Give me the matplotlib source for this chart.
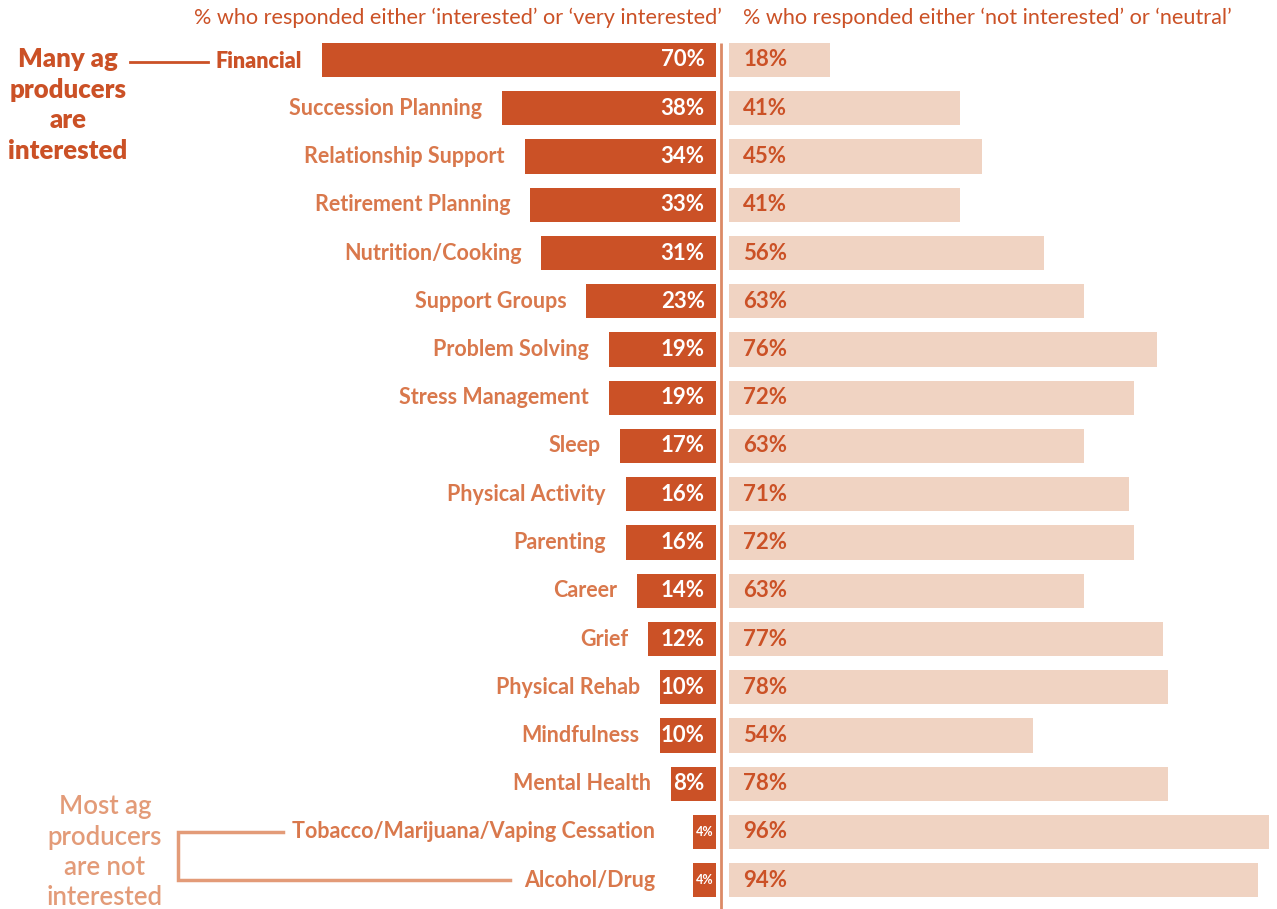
import matplotlib
matplotlib.use("Agg")
import matplotlib.pyplot as plt

categories = [
    "Financial", "Succession Planning", "Relationship Support", "Retirement Planning",
    "Nutrition/Cooking", "Support Groups", "Problem Solving", "Stress Management",
    "Sleep", "Physical Activity", "Parenting", "Career", "Grief", "Physical Rehab",
    "Mindfulness", "Mental Health", "Tobacco/Marijuana/Vaping Cessation", "Alcohol/Drug",
]
interested = [70, 38, 34, 33, 31, 23, 19, 19, 17, 16, 16, 14, 12, 10, 10, 8, 4, 4]
not_interested = [18, 41, 45, 41, 56, 63, 76, 72, 63, 71, 72, 63, 77, 78, 54, 78, 96, 94]

left_header = "% who responded either \u2018interested\u2019 or \u2018very interested\u2019"
right_header = "% who responded either \u2018not interested\u2019 or \u2018neutral\u2019"

DARK = "#cb5126"
LIGHT = "#f0d3c2"
LABEL = "#d9784c"
SOFT = "#e39b78"
RULE = "#dc8a66"
FONT = ["Lato", "DejaVu Sans"]

W, H = 1277, 909
fig = plt.figure(figsize=(W / 100, H / 100), dpi=100)
ax = fig.add_axes([0, 0, 1, 1])

px = 5.63            # pixels per percentage point
x0 = 721             # divider position in pixels
row0, pitch = 60, 48.25
ax.set_xlim(-x0 / px, (W - x0) / px)
ax.set_ylim((H - row0) / pitch, -row0 / pitch)
ax.axis("off")

gap_l, gap_r = 0.9, 1.42
bar_h = 0.71
ys = list(range(len(categories)))

ax.barh(ys, [-v for v in interested], left=-gap_l, height=bar_h, color=DARK, linewidth=0)
ax.barh(ys, not_interested, left=gap_r, height=bar_h, color=LIGHT, linewidth=0)
ax.plot([0, 0], [-bar_h / 2, len(categories) + 0.5], color=RULE, lw=2, solid_capstyle="butt")

for y, cat, a, b in zip(ys, categories, interested, not_interested):
    if a < 6:
        ax.text(-gap_l - a / 2, y, f"{a}%", ha="center", va="center", color="white",
                fontsize=9, fontweight="bold", family=FONT)
    else:
        ax.text(-gap_l - 2.0, y, f"{a}%", ha="right", va="center", color="white",
                fontsize=16, fontweight="bold", family=FONT)
    ax.text(gap_r + 2.5, y, f"{b}%", ha="left", va="center", color=DARK,
            fontsize=16, fontweight="bold", family=FONT)
    lx = min(-gap_l - a - 3.55, -11.7)
    if y == 0:
        ax.text(lx, y + 0.04, cat, ha="right", va="center", color=DARK, fontsize=15.5,
                fontweight="heavy", family=FONT)
    else:
        ax.text(lx, y, cat, ha="right", va="center", color=LABEL, fontsize=15.5,
                fontweight="bold", family=FONT)

ax.text(0.2, -0.87, left_header, ha="right", va="center", color=DARK, fontsize=15.6, family=FONT)
ax.text(3.9, -0.87, right_header, ha="left", va="center", color=DARK, fontsize=15.6, family=FONT)

# top callout
ax.text(-(x0 - 68) / px, 0.93, "Many ag\nproducers\nare\ninterested", ha="center", va="center",
        color=DARK, fontsize=18.5, fontweight="heavy", family=FONT, linespacing=1.33)
ax.plot([-(x0 - 130) / px, -(x0 - 208) / px], [0.04, 0.04], color=DARK, lw=2)

# bottom callout with bracket
ax.text(-(x0 - 105) / px, 16.42, "Most ag\nproducers\nare not\ninterested", ha="center", va="center",
        color=SOFT, fontsize=18.5, fontweight="semibold", family=FONT, linespacing=1.26)
bx = -(x0 - 178) / px
ax.plot([-(x0 - 283) / px, bx, bx, -(x0 - 510) / px], [16, 16, 17, 17],
        color=SOFT, lw=2.5, solid_joinstyle="miter")

fig.savefig("out.png", dpi=100)
